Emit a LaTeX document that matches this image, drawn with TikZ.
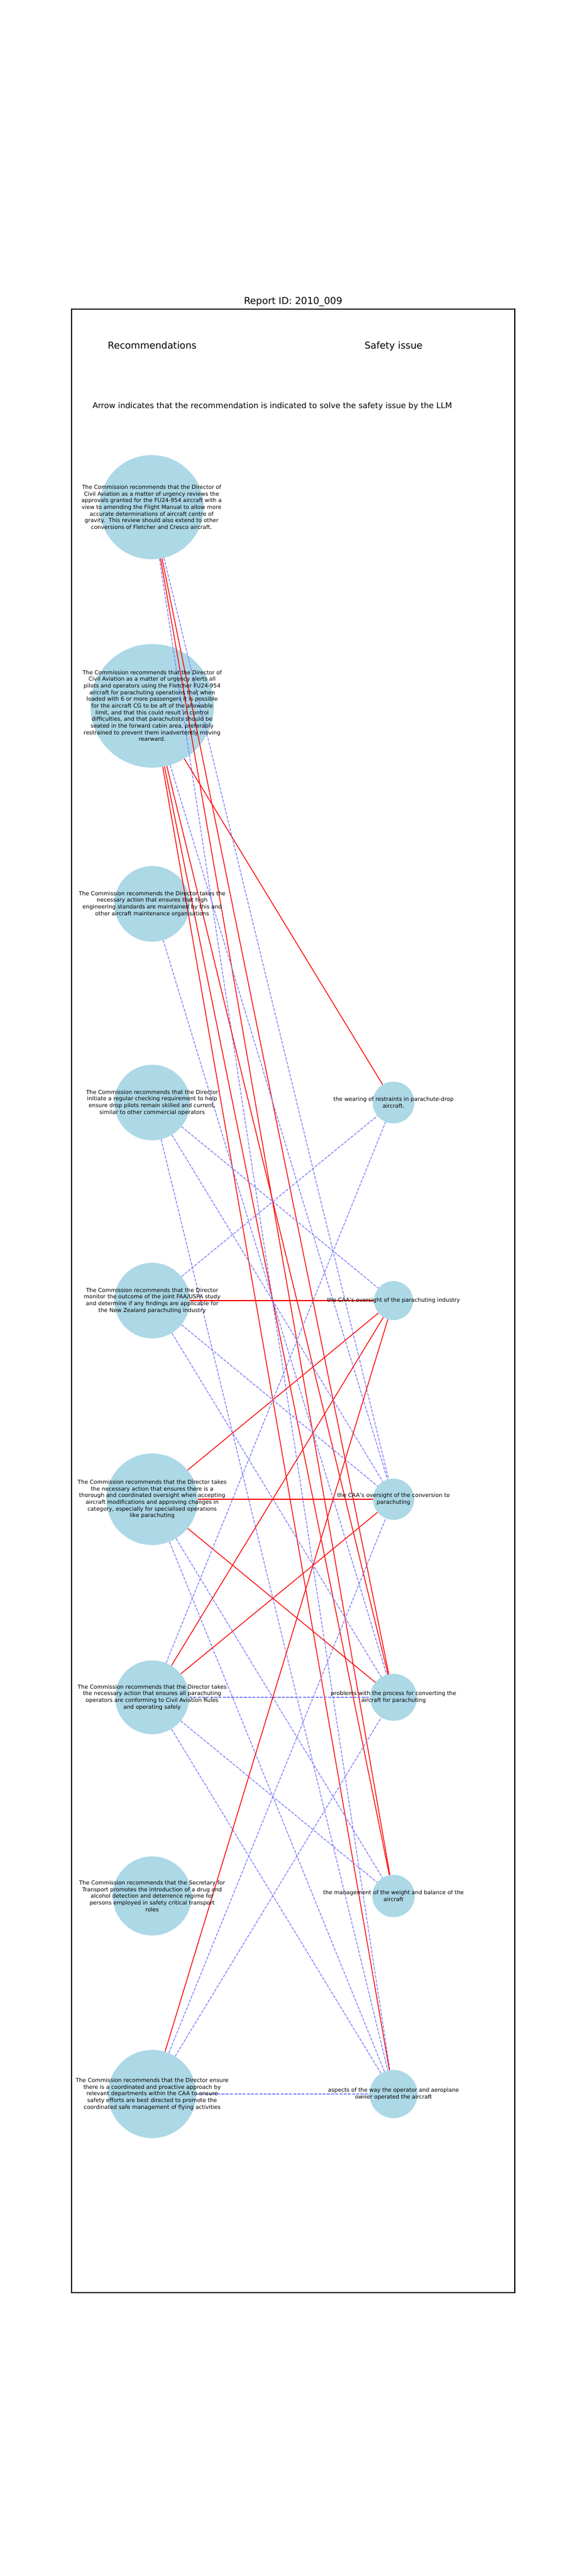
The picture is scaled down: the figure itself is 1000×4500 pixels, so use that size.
\documentclass[tikz,border=0pt]{standalone}
\usepackage{fontspec}
\setmainfont{DejaVu Sans}
\definecolor{lb}{RGB}{173,216,230}
\definecolor{eblue}{RGB}{128,128,255}
\begin{document}
\begin{tikzpicture}[x=0.72pt,y=-0.72pt,
  rec/.style={circle,fill=lb,draw=none,inner sep=0pt,minimum size=#1*1.44pt},
  lbl/.style={align=center,inner sep=0pt,font=\fontsize{7}{8.4}\selectfont},
  hit/.style={draw=red,line width=1pt},
  ind/.style={draw=eblue,line width=1pt,dash pattern=on 3.7pt off 1.6pt}]
\fill[white] (0,0) rectangle (1000,4500);
\useasboundingbox (0,0) rectangle (1000,4500);
\draw[line width=0.8pt] (125,540) rectangle (900,4005);
\node[anchor=base,inner sep=0pt,font=\fontsize{12}{14}\selectfont] (title) at (512.5,531.5) {Report ID: 2010\_009};
\node[anchor=base,inner sep=0pt,font=\fontsize{12}{14}\selectfont] (hrec) at (266,609) {Recommendations};
\node[anchor=base,inner sep=0pt,font=\fontsize{12}{14}\selectfont] (hiss) at (688,609) {Safety issue};
\node[anchor=base,inner sep=0pt,font=\fontsize{10}{12}\selectfont] (note) at (476,713) {Arrow indicates that the recommendation is indicated to solve the safety issue by the LLM};
% recommendation circles
\node[rec=91] (L1) at (265,886) {};
\node[rec=108] (L2) at (266,1233) {};
\node[rec=66] (L3) at (266,1579) {};
\node[rec=66] (L4) at (266,1926) {};
\node[rec=66] (L5) at (266,2272) {};
\node[rec=80] (L6) at (266,2619) {};
\node[rec=64.5] (L7) at (266,2965) {};
\node[rec=69] (L8) at (266,3312) {};
\node[rec=77] (L9) at (266,3658) {};
% safety issue circles
\node[rec=36.5] (R1) at (688,1926) {};
\node[rec=34] (R2) at (688,2272) {};
\node[rec=36] (R3) at (688,2619) {};
\node[rec=41] (R4) at (688,2965) {};
\node[rec=37] (R5) at (688,3312) {};
\node[rec=42] (R6) at (688,3658) {};
% connectors
\draw[ind] (L1) -- (R3);
\draw[hit] (L1) -- (R4);
\draw[hit] (L1) -- (R5);
\draw[ind] (L1) -- (R6);
\draw[hit] (L2) -- (R1);
\draw[ind] (L2) -- (R3);
\draw[hit] (L2) -- (R4);
\draw[hit] (L2) -- (R5);
\draw[hit] (L2) -- (R6);
\draw[ind] (L3) -- (R4);
\draw[ind] (L4) -- (R2);
\draw[ind] (L4) -- (R3);
\draw[ind] (L4) -- (R6);
\draw[ind] (L5) -- (R1);
\draw[hit] (L5) -- (R2);
\draw[ind] (L5) -- (R3);
\draw[ind] (L5) -- (R4);
\draw[hit] (L6) -- (R2);
\draw[hit] (L6) -- (R3);
\draw[hit] (L6) -- (R4);
\draw[ind] (L6) -- (R5);
\draw[ind] (L6) -- (R6);
\draw[ind] (L7) -- (R1);
\draw[hit] (L7) -- (R2);
\draw[hit] (L7) -- (R3);
\draw[ind] (L7) -- (R4);
\draw[ind] (L7) -- (R5);
\draw[ind] (L7) -- (R6);
\draw[hit] (L9) -- (R2);
\draw[ind] (L9) -- (R3);
\draw[ind] (L9) -- (R4);
\draw[ind] (L9) -- (R6);
% texts
\node[lbl] (L1t) at (L1) {The Commission recommends that the Director of\\Civil Aviation as a matter of urgency reviews the\\approvals granted for the FU24-954 aircraft with a\\view to amending the Flight Manual to allow more\\accurate determinations of aircraft centre of\\gravity.\ \ This review should also extend to other\\conversions of Fletcher and Cresco aircraft.};
\node[lbl] (L2t) at (L2) {The Commission recommends that the Director of\\Civil Aviation as a matter of urgency alerts all\\pilots and operators using the Fletcher FU24-954\\aircraft for parachuting operations that when\\loaded with 6 or more passengers it is possible\\for the aircraft CG to be aft of the allowable\\limit, and that this could result in control\\difficulties, and that parachutists should be\\seated in the forward cabin area, preferably\\restrained to prevent them inadvertently moving\\rearward.};
\node[lbl] (L3t) at (L3) {The Commission recommends the Director takes the\\necessary action that ensures that high\\engineering standards are maintained by this and\\other aircraft maintenance organisations};
\node[lbl] (L4t) at (L4) {The Commission recommends that the Director\\initiate a regular checking requirement to help\\ensure drop pilots remain skilled and current,\\similar to other commercial operators};
\node[lbl] (L5t) at (L5) {The Commission recommends that the Director\\monitor the outcome of the joint FAA/USPA study\\and determine if any findings are applicable for\\the New Zealand parachuting industry};
\node[lbl] (L6t) at (L6) {The Commission recommends that the Director takes\\the necessary action that ensures there is a\\thorough and coordinated oversight when accepting\\aircraft modifications and approving changes in\\category, especially for specialised operations\\like parachuting};
\node[lbl] (L7t) at (L7) {The Commission recommends that the Director takes\\the necessary action that ensures all parachuting\\operators are conforming to Civil Aviation Rules\\and operating safely};
\node[lbl] (L8t) at (L8) {The Commission recommends that the Secretary for\\Transport promotes the introduction of a drug and\\alcohol detection and deterrence regime for\\persons employed in safety critical transport\\roles};
\node[lbl] (L9t) at (L9) {The Commission recommends that the Director ensure\\there is a coordinated and proactive approach by\\relevant departments within the CAA to ensure\\safety efforts are best directed to promote the\\coordinated safe management of flying activities};
\node[lbl] (R1t) at (R1) {the wearing of restraints in parachute-drop\\aircraft.};
\node[lbl] (R2t) at (R2) {the CAA's oversight of the parachuting industry};
\node[lbl] (R3t) at (R3) {the CAA's oversight of the conversion to\\parachuting};
\node[lbl] (R4t) at (R4) {problems with the process for converting the\\aircraft for parachuting};
\node[lbl] (R5t) at (R5) {the management of the weight and balance of the\\aircraft};
\node[lbl] (R6t) at (R6) {aspects of the way the operator and aeroplane\\owner operated the aircraft};
\end{tikzpicture}
\end{document}
